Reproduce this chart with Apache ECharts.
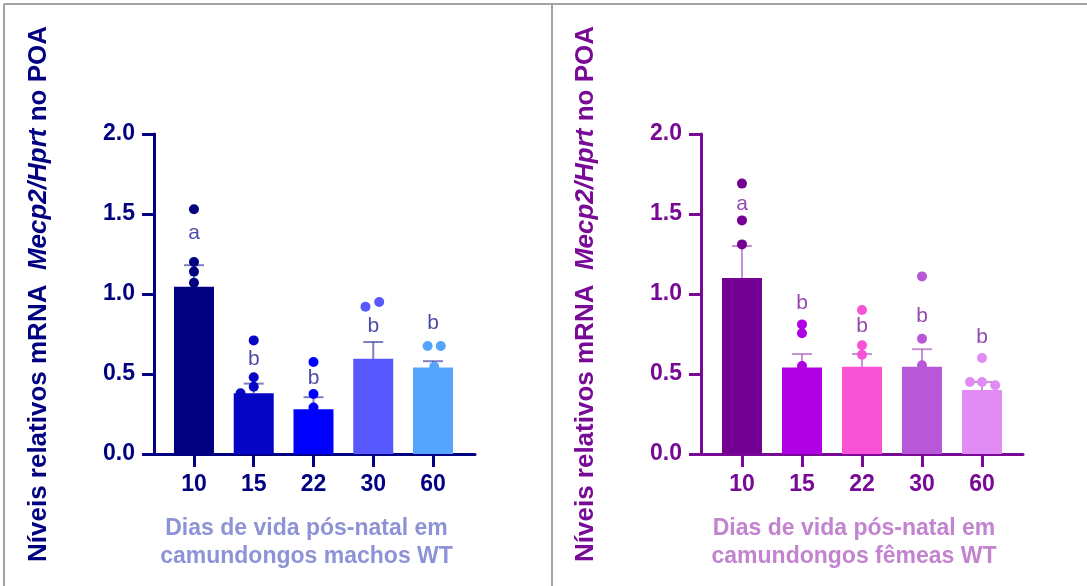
<!DOCTYPE html>
<html>
<head>
<meta charset="utf-8">
<script src="https://cdn.jsdelivr.net/npm/echarts@6/dist/echarts.min.js"></script>
<style>
  html, body { margin: 0; padding: 0; background: #fff; }
  #chart { width: 1087px; height: 586px; }
</style>
</head>
<body>
<div id="chart"></div>
<script>
// dias pós-natal
const days = ["10", "15", "22", "30", "60"];

// machos WT: média e erro (SEM)
const maleMean = [1.045, 0.38, 0.28, 0.595, 0.54];
const maleSem = [0.135, 0.06, 0.075, 0.105, 0.04];
// pontos individuais [posição do grupo, valor]
const malePoints = [
  [0, 1.53], [0, 1.2], [0, 1.14], [0, 1.07],
  [1, 0.71], [1, 0.48], [1, 0.42], [0.78, 0.38],
  [2, 0.575], [2, 0.375], [2, 0.29],
  [2.87, 0.92], [3.1, 0.95],
  [3.91, 0.675], [4.13, 0.675], [4.02, 0.545],
];
const maleLetters = ["a", "b", "b", "b", "b"];
const maleLetterY = [1.38, 0.59, 0.475, 0.8, 0.82];

// fêmeas WT
const femaleMean = [1.1, 0.54, 0.545, 0.545, 0.4];
const femaleSem = [0.2, 0.085, 0.08, 0.11, 0.05];
const femalePoints = [
  [0, 1.69], [0, 1.46], [0, 1.31],
  [1, 0.81], [1, 0.755], [1, 0.55],
  [2, 0.9], [2, 0.68], [2, 0.62],
  [3, 1.11], [3, 0.72], [3, 0.555],
  [4, 0.6], [3.8, 0.45], [4, 0.45], [4.22, 0.43],
];
const femaleLetters = ["a", "b", "b", "b", "b"];
const femaleLetterY = [1.56, 0.94, 0.8, 0.86, 0.73];

const yTicks = [0, 0.5, 1, 1.5, 2];

const FONT = "'Liberation Sans', Arial, sans-serif";

const male = {
  axis: "#000080",
  title: "#8e92d6",
  letter: "#1c1c8c",
  bars: ["#000080", "#0505c4", "#0000ff", "#5858ff", "#55a5ff"],
  err: "rgba(40,40,150,0.6)",
  left: 154,
  width: 321,
  min: -0.669,
  max: 4.703,
  xName: "Dias de vida pós-natal em\ncamundongos machos WT",
};
const female = {
  axis: "#780a96",
  title: "#c283cf",
  letter: "#7a1a9a",
  bars: ["#740094", "#b000e4", "#f852d6", "#b858d8", "#e08cf4"],
  err: "rgba(150,60,180,0.55)",
  left: 701,
  width: 322,
  min: -0.683,
  max: 4.683,
  xName: "Dias de vida pós-natal em\ncamundongos fêmeas WT",
};

function buildPanel(i, cfg, mean, sem, points, letters, letterY) {
  const grid = { left: cfg.left, top: 134, width: cfg.width, height: 320 };
  const xAxis = {
    gridIndex: i,
    type: "value",
    min: cfg.min,
    max: cfg.max,
    splitLine: { show: false },
    axisLine: { show: true, onZero: false, lineStyle: { color: cfg.axis, width: 3 } },
    axisTick: {
      show: true,
      customValues: [0, 1, 2, 3, 4],
      length: 13,
      lineStyle: { color: cfg.axis, width: 3 },
    },
    axisLabel: {
      customValues: [0, 1, 2, 3, 4],
      formatter: (v) => days[Math.round(v)],
      margin: 19,
      color: cfg.axis,
      fontFamily: FONT,
      fontWeight: "bold",
      fontSize: 23,
    },
    name: cfg.xName,
    nameLocation: "middle",
    nameGap: 61,
    nameTextStyle: {
      color: cfg.title,
      fontFamily: FONT,
      fontWeight: "bold",
      fontSize: 23,
      lineHeight: 28,
      padding: [0, 16, 0, 0],
    },
  };
  const yAxis = {
    gridIndex: i,
    type: "value",
    min: 0,
    max: 2,
    interval: 0.5,
    splitLine: { show: false },
    axisLine: { show: true, onZero: false, lineStyle: { color: cfg.axis, width: 3 } },
    axisTick: { show: true, length: 12, lineStyle: { color: cfg.axis, width: 3 } },
    axisLabel: {
      customValues: yTicks,
      formatter: (v) => v.toFixed(1),
      margin: 19,
      color: cfg.axis,
      fontFamily: FONT,
      fontWeight: "bold",
      fontSize: 23,
    },
    name: "{n|Níveis relativos mRNA  }{i|Mecp2/Hprt}{n| no POA}",
    nameLocation: "middle",
    nameGap: 102,
    nameTextStyle: {
      rich: {
        n: { color: cfg.axis, fontFamily: FONT, fontWeight: "bold", fontSize: 26 },
        i: { color: cfg.axis, fontFamily: FONT, fontWeight: "bold", fontStyle: "italic", fontSize: 26 },
      },
    },
  };

  const series = [
    {
      type: "bar",
      xAxisIndex: i,
      yAxisIndex: i,
      barWidth: 40,
      data: mean.map((v, k) => ({ value: [k, v], itemStyle: { color: cfg.bars[k] } })),
      z: 2,
    },
    {
      // barra de erro só para cima
      type: "custom",
      xAxisIndex: i,
      yAxisIndex: i,
      data: mean.map((v, k) => [k, v, v + sem[k]]),
      renderItem: function (params, api) {
        const base = api.coord([api.value(0), api.value(1)]);
        const top = api.coord([api.value(0), api.value(2)]);
        const style = { stroke: cfg.err, lineWidth: 2 };
        return {
          type: "group",
          children: [
            { type: "line", shape: { x1: base[0], y1: base[1], x2: top[0], y2: top[1] }, style: style },
            { type: "line", shape: { x1: top[0] - 10, y1: top[1], x2: top[0] + 10, y2: top[1] }, style: style },
          ],
        };
      },
      z: 3,
    },
    {
      type: "scatter",
      xAxisIndex: i,
      yAxisIndex: i,
      symbolSize: 10,
      data: points.map((p) => ({ value: p, itemStyle: { color: cfg.bars[Math.round(p[0])] } })),
      itemStyle: { opacity: 1 },
      z: 4,
    },
    {
      // letras de significância
      type: "scatter",
      xAxisIndex: i,
      yAxisIndex: i,
      symbolSize: 0,
      data: letterY.map((v, k) => [k, v, letters[k]]),
      label: {
        show: true,
        position: "inside",
        formatter: (p) => p.data[2],
        color: cfg.letter,
        fontFamily: FONT,
        fontSize: 21,
      },
      z: 5,
    },
  ];
  return { grid, xAxis, yAxis, series };
}

const a = buildPanel(0, male, maleMean, maleSem, malePoints, maleLetters, maleLetterY);
const b = buildPanel(1, female, femaleMean, femaleSem, femalePoints, femaleLetters, femaleLetterY);

const borderStyle = { stroke: "#a3a3a3", lineWidth: 2 };

const option = {
  animation: false,
  backgroundColor: "#fff",
  grid: [a.grid, b.grid],
  xAxis: [a.xAxis, b.xAxis],
  yAxis: [a.yAxis, b.yAxis],
  series: a.series.concat(b.series),
  graphic: [
    { type: "line", shape: { x1: 4, y1: 4, x2: 1087, y2: 4 }, style: borderStyle },
    { type: "line", shape: { x1: 4, y1: 4, x2: 4, y2: 586 }, style: borderStyle },
    { type: "line", shape: { x1: 552, y1: 4, x2: 552, y2: 586 }, style: borderStyle },
  ],
};

const chart = echarts.init(document.getElementById("chart"));
chart.setOption(option);
</script>
</body>
</html>
